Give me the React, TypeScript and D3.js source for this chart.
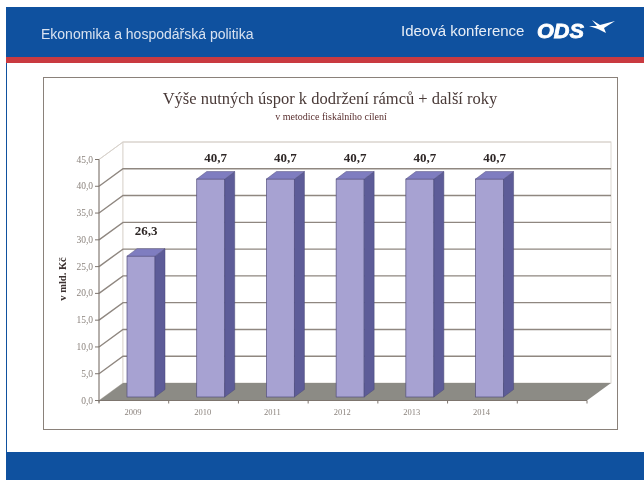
import React from 'react';
import * as d3 from 'd3';

const years = ['2009', '2010', '2011', '2012', '2013', '2014', ''];
const values = [26.3, 40.7, 40.7, 40.7, 40.7, 40.7];
const valueLabels = ['26,3', '40,7', '40,7', '40,7', '40,7', '40,7'];
const yTicks = [0, 5, 10, 15, 20, 25, 30, 35, 40, 45];

const fmt = (v: number) => v.toFixed(1).replace('.', ',');

// 3d offsets
const wallDx = 24;
const wallDy = -17.5;
const barDx = 10;
const barDy = -7.5;

const x = d3.scaleBand().domain(years).range([99, 587]);
const y = d3.scaleLinear().domain([0, 45]).range([400.5, 159.5]);

const pts = (p: number[][]) => p.map(d => d.join(',')).join(' ');

function Bar({ year, value }: { year: string; value: number }) {
  const x0 = x(year)! + 28;
  const x1 = x0 + 28;
  const base = y(0) - 3.5;
  const top = base - (y(0) - y(value));
  return (
    <g>
      <rect x={x0} y={top} width={x1 - x0} height={base - top} fill="#a7a2d2" stroke="#55517f" strokeWidth={0.7} />
      <polygon points={pts([[x1, top], [x1 + barDx, top + barDy], [x1 + barDx, base + barDy], [x1, base]])} fill="#5d5c98" stroke="#4a4a78" strokeWidth={0.5} />
      <polygon points={pts([[x0, top], [x0 + barDx, top + barDy], [x1 + barDx, top + barDy], [x1, top]])} fill="#7f7dc0" stroke="#55517f" strokeWidth={0.5} />
    </g>
  );
}

export default function App() {
  const [x0, x1] = x.range();
  const y0 = y(0);
  const yTop = y(45);
  return (
    <svg width={644} height={480} style={{ position: 'absolute', left: 0, top: 0 }}>
      <defs>
        <filter id="soft"><feGaussianBlur stdDeviation="0.4" /></filter>
      </defs>
      <rect width={644} height={480} fill="#ffffff" />
      <rect x={6} y={7} width={638} height={50} fill="#0f519f" />
      <rect x={6} y={57} width={638} height={6} fill="#c93a40" />
      <rect x={6} y={63} width={1} height={389} fill="#0f519f" />
      <rect x={6} y={452} width={638} height={28} fill="#0f519f" />
      <g filter="url(#soft)">
        <text x={41} y={39} fill="#d8e2f0" fontFamily="Liberation Sans" fontSize={14}>Ekonomika a hospodářská politika</text>
        <text x={401} y={36} fill="#e8eef6" fontFamily="Liberation Sans" fontSize={15}>Ideová konference</text>
        <text x={537} y={38} fill="#ffffff" stroke="#ffffff" strokeWidth={0.8} fontFamily="Liberation Sans" fontSize={20} fontWeight={700} fontStyle="italic" textLength={47} lengthAdjust="spacingAndGlyphs">ODS</text>
        <path d="M592 20 L600 25 L615 21 L604 28 L606 33 L598 29 L589 26 L597 26 Z" fill="#ffffff" />

        <rect x={43.5} y={77.5} width={574} height={352} fill="#ffffff" stroke="#8a817a" strokeWidth={1} />

        <text x={330} y={104} textAnchor="middle" fill="#4a3a38" fontFamily="Liberation Serif" fontSize={16.5}>Výše nutných úspor k dodržení rámců + další roky</text>
        <text x={331} y={120} textAnchor="middle" fill="#5a3030" fontFamily="Liberation Serif" fontSize={10}>v metodice fiskálního cílení</text>

        {/* walls and floor */}
        <polygon points={pts([[x0, y0], [x0 + wallDx, y0 + wallDy], [x0 + wallDx, yTop + wallDy], [x0, yTop]])} fill="#ffffff" stroke="#ddd8d2" strokeWidth={1} />
        <rect x={x0 + wallDx} y={yTop + wallDy} width={x1 - x0} height={y0 - yTop} fill="#ffffff" stroke="#ddd8d2" strokeWidth={1} />
        <polygon points={pts([[x0, y0], [x0 + wallDx, y0 + wallDy], [x1 + wallDx, y0 + wallDy], [x1, y0]])} fill="#8c8b85" />

        {yTicks.filter(t => t > 0 && t < 45).map(t => (
          <polyline key={t} points={pts([[x0, y(t)], [x0 + wallDx, y(t) + wallDy], [x1 + wallDx, y(t) + wallDy]])} fill="none" stroke="#8f8780" strokeWidth={1.4} />
        ))}
        <polyline points={pts([[x0, yTop], [x0 + wallDx, yTop + wallDy], [x1 + wallDx, yTop + wallDy]])} fill="none" stroke="#d8d2cc" strokeWidth={1} />

        {/* axes */}
        <line x1={x0} x2={x0} y1={yTop} y2={y0 + 2} stroke="#7d746e" strokeWidth={1} />
        <line x1={x0} x2={x1} y1={y0} y2={y0} stroke="#7d746e" strokeWidth={1} />
        {yTicks.map(t => (
          <g key={t}>
            <line x1={x0 - 4} x2={x0} y1={y(t)} y2={y(t)} stroke="#7d746e" />
            <text x={x0 - 6} y={y(t) + 3} textAnchor="end" fill="#8b837d" fontFamily="Liberation Serif" fontSize={9.5}>{fmt(t)}</text>
          </g>
        ))}
        {years.map(yr => (
          <line key={yr} x1={x(yr)! + x.bandwidth()} x2={x(yr)! + x.bandwidth()} y1={y0} y2={y0 + 3} stroke="#7d746e" />
        ))}
        <line x1={x0} x2={x0} y1={y0} y2={y0 + 3} stroke="#7d746e" />
        {years.slice(0, 6).map(yr => (
          <text key={yr} x={x(yr)! + 34} y={415} textAnchor="middle" fill="#8b837d" fontFamily="Liberation Serif" fontSize={8.5}>{yr}</text>
        ))}

        <text transform="translate(66,279) rotate(-90)" textAnchor="middle" fill="#3c3230" fontFamily="Liberation Serif" fontSize={10.5} fontWeight={700}>v mld. Kč</text>

        {values.map((v, i) => <Bar key={years[i]} year={years[i]} value={v} />)}

        {values.map((v, i) => (
          <text key={years[i]} x={x(years[i])! + 47} y={y(v) - (v < 30 ? 25 : 21)} textAnchor="middle" fill="#2e2826" fontFamily="Liberation Serif" fontSize={13} fontWeight={700}>{valueLabels[i]}</text>
        ))}
      </g>
    </svg>
  );
}
